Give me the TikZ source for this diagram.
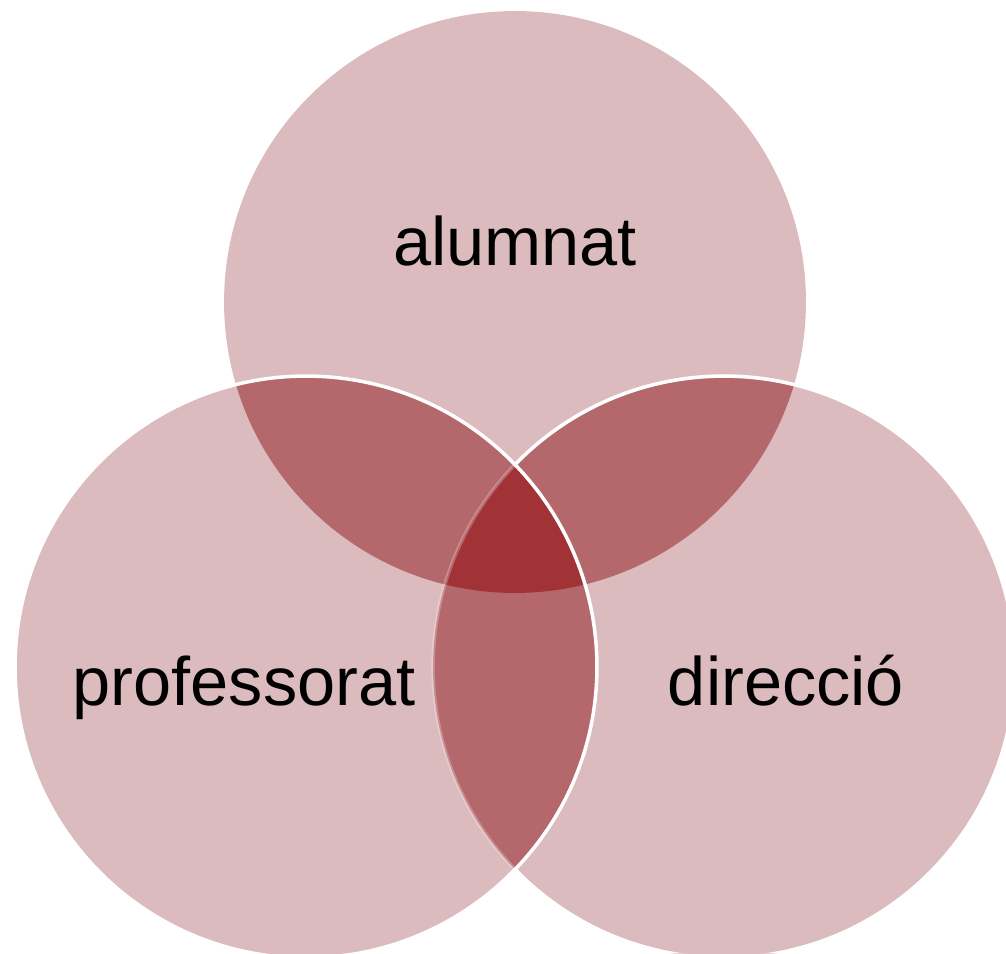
\documentclass[tikz,border=0pt]{standalone}
\usepackage{fontspec}
\setmainfont{Liberation Sans}
\definecolor{vennlight}{HTML}{DBBBBE}
\definecolor{vennmid}{HTML}{B5686B}
\definecolor{venndark}{HTML}{A13336}

\begin{document}
\begin{tikzpicture}[x=0.02cm,y=-0.02cm,
    setname/.style={font=\fontsize{39}{46}\selectfont,anchor=base},
    rim/.style={draw=white,line width=2pt}]
    \useasboundingbox (0,0) rectangle (1006,953);
    \clip (0,0) rectangle (1006,953);
    \def\rr{5.82cm}
    %centres
    \coordinate (alumnat) at (515,302);
    \coordinate (prof) at (306,667);
    \coordinate (dir) at (724,667);
    %single sets
    \foreach \c in {alumnat,prof,dir}
      \fill[vennlight] (\c) circle (\rr);
    %pairs
    \begin{scope}
      \clip (alumnat) circle (\rr);
      \fill[vennmid] (prof) circle (\rr);
      \fill[vennmid] (dir) circle (\rr);
    \end{scope}
    \begin{scope}
      \clip (prof) circle (\rr);
      \fill[vennmid] (dir) circle (\rr);
    \end{scope}
    %all three
    \begin{scope}
      \clip (alumnat) circle (\rr);
      \clip (prof) circle (\rr);
      \fill[venndark] (dir) circle (\rr);
    \end{scope}
    %rims
    \draw[rim,draw opacity=0.25] (dir) circle (\rr);
    \begin{scope}[even odd rule]
      \clip (0,0) rectangle (1006,953) (prof) circle (\rr);
      \draw[rim] (dir) circle (\rr);
    \end{scope}
    \draw[rim] (prof) circle (\rr);
    %labels
    \node[setname] (alumnat label) at (515,265) {alumnat};
    \node[setname] (prof label) at (244,705) {professorat};
    \node[setname] (dir label) at (786,705) {direcció};
\end{tikzpicture}
\end{document}
